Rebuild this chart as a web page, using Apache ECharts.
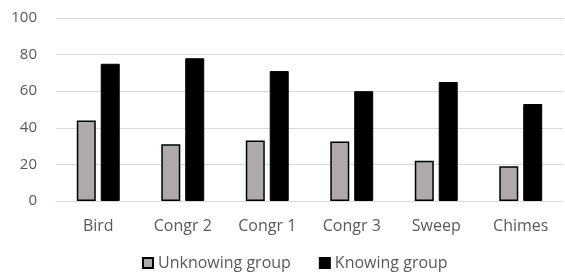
<!DOCTYPE html>
<html>
<head>
<meta charset="utf-8">
<script src="https://cdn.jsdelivr.net/npm/echarts@6/dist/echarts.min.js"></script>
<style>
  html, body { margin: 0; padding: 0; background: #fff; }
  #chart { width: 565px; height: 277px; }
</style>
</head>
<body>
<div id="chart"></div>
<script>
  const categories = ['Bird', 'Congr 2', 'Congr 1', 'Congr 3', 'Sweep', 'Chimes'];
  const unknowing = [44, 31, 33, 32.5, 22, 19];
  const knowing = [75, 78, 71, 60, 65, 53];

  const myChart = echarts.init(document.getElementById('chart'));
  const font = '"Open Sans", sans-serif';
  const option = {
    animation: false,
    grid: { left: 56, right: 2, top: 18, bottom: 76 },
    legend: {
      bottom: 1,
      left: 137,
      itemWidth: 10,
      itemHeight: 10,
      itemGap: 28,
      icon: 'rect',
      textStyle: { color: '#595959', fontSize: 16, fontFamily: font },
      data: ['Unknowing group', 'Knowing group']
    },
    xAxis: {
      type: 'category',
      data: categories,
      axisLine: { lineStyle: { color: '#d9d9d9', width: 1 } },
      axisTick: { show: false },
      axisLabel: { color: '#595959', fontSize: 16, fontFamily: font, margin: 17 }
    },
    yAxis: {
      type: 'value',
      min: 0,
      max: 100,
      interval: 20,
      axisLine: { show: false },
      axisTick: { show: false },
      splitLine: { lineStyle: { color: '#d9d9d9', width: 1 } },
      axisLabel: { color: '#595959', fontSize: 15, fontFamily: font, margin: 19 }
    },
    series: [
      {
        name: 'Unknowing group',
        type: 'bar',
        data: unknowing,
        barWidth: 19,
        barGap: '26%',
        itemStyle: { color: '#aeaaaa', borderColor: '#000', borderWidth: 1.5 }
      },
      {
        name: 'Knowing group',
        type: 'bar',
        data: knowing,
        barWidth: 19,
        itemStyle: { color: '#000', borderColor: '#000', borderWidth: 1 }
      }
    ]
  };
  myChart.setOption(option);
</script>
</body>
</html>
